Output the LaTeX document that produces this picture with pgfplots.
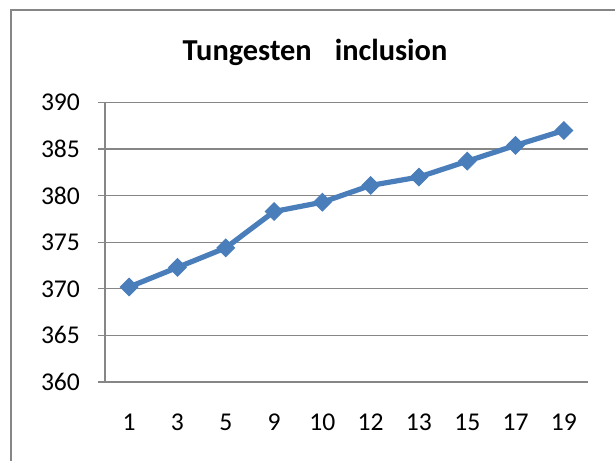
\documentclass[border=0pt]{standalone}
\usepackage{fontspec}
\setmainfont{Carlito}
\usepackage{pgfplots}
\pgfplotsset{compat=1.18}
\definecolor{serblue}{HTML}{4A7EBB}
\definecolor{gridgray}{HTML}{868686}
\begin{document}
\begin{tikzpicture}
\path[use as bounding box] (0,0) rectangle (307.5pt,-230pt);
\fill[white] (0,0) rectangle (307.5pt,-230pt);
\draw[gridgray, line width=0.8pt] (5.5pt,-240pt) -- (5.5pt,-5pt) -- (320pt,-5pt);
\node[anchor=base, font=\fontsize{15.2}{17}\selectfont\bfseries] at (157.5pt,-30.5pt) {Tungesten\hspace{11.5pt}inclusion};
\begin{axis}[
  at={(52.5pt,-191pt)}, anchor=south west,
  scale only axis, width=241.5pt, height=139.75pt,
  xmin=-0.5, xmax=9.5, ymin=360, ymax=390,
  ytick={360,365,...,390},
  xtick={0,...,9},
  xticklabels={1,3,5,9,10,12,13,15,17,19},
  minor xtick={-0.5,0.5,...,9.5},
  ymajorgrids,
  grid style={gridgray, line width=0.6pt},
  axis line style={gridgray, line width=0.6pt},
  axis x line*=bottom, axis y line*=left,
  tick align=outside,
  tick pos=left,
  ytick style={gridgray, line width=0.6pt},
  major tick length=3.5pt,
  xtick style={draw=none},
  minor x tick style={gridgray, line width=0.6pt},
  minor tick length=4pt,
  /pgf/number format/assume math mode=true,
  tick label style={font=\fontsize{12.8}{15}\selectfont, text=black},
  yticklabel style={xshift=-5.5pt},
  xticklabel style={yshift=-9pt},
  clip=false,
]
\addplot[serblue, line width=2.6pt, mark=square*, mark size=3.1pt,
  mark options={rotate=45, fill=serblue, draw=serblue, line width=0.5pt}]
  coordinates {(0,370.2) (1,372.3) (2,374.4) (3,378.3) (4,379.3) (5,381.1) (6,382.0) (7,383.7) (8,385.4) (9,387.0)};
\end{axis}
\end{tikzpicture}
\end{document}
